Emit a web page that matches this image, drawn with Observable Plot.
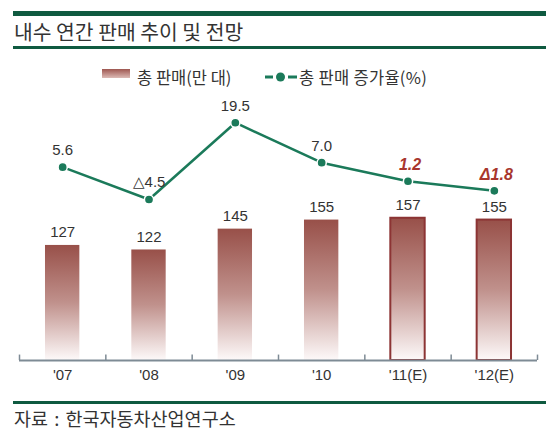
<!DOCTYPE html>
<html>
<head>
<meta charset="utf-8">
<script src="https://cdn.jsdelivr.net/npm/d3@7"></script>
<script src="https://cdn.jsdelivr.net/npm/@observablehq/plot@0.6"></script>
<style>
  body { margin: 0; background: #fff; }
  #chart { position: relative; width: 560px; height: 442px; overflow: hidden; background: #fff;
           font-family: "Noto Sans CJK KR", "Noto Sans", sans-serif; color: #333; }
  .rule { position: absolute; left: 13px; width: 533px; background: #0f5a40; }
  #title { position: absolute; left: 14px; top: 16px; font-size: 20.4px; line-height: 30px; }
  #source { position: absolute; left: 14px; top: 404px; font-size: 18.5px; line-height: 28px; word-spacing: 2px; }
  .leg { position: absolute; font-size: 16.5px; line-height: 22px; top: 66px; }
  #plot { position: absolute; left: 0; top: 90px; }
</style>
</head>
<body>
<div id="chart">
  <div class="rule" style="top:11px;height:5px"></div>
  <div id="title">내수 연간 판매 추이 및 전망</div>
  <div class="rule" style="top:46px;height:3px"></div>

  <div style="position:absolute;left:102px;top:69px;width:28px;height:9px;background:linear-gradient(#9e5650,#dcbab5)"></div>
  <div class="leg" style="left:137px">총 판매(만 대)</div>
  <svg style="position:absolute;left:264px;top:67px" width="34" height="20">
    <line x1="1" x2="9" y1="10" y2="10" stroke="#1b7a5a" stroke-width="3"/>
    <line x1="24" x2="33" y1="10" y2="10" stroke="#1b7a5a" stroke-width="3"/>
    <circle cx="16.5" cy="10" r="4.5" fill="#1b7a5a"/>
  </svg>
  <div class="leg" style="left:299px;letter-spacing:0.3px">총 판매 증가율(%)</div>

  <div id="plot"></div>

  <div class="rule" style="top:401px;height:3px"></div>
  <div id="source">자료 : 한국자동차산업연구소</div>
</div>
<script>
const years = ["'07", "'08", "'09", "'10", "'11(E)", "'12(E)"];
const sales = [127, 122, 145, 155, 157, 155];          // 만 대
const growth = [5.6, -4.5, 19.5, 7.0, 1.2, -1.8];      // %
const estimated = [false, false, false, false, true, true];

// the growth line shares the bar axis: map % onto it
const rateBase = 193.6, rateStep = 3.53;
const rateY = v => rateBase + rateStep * v;
const fmtRate = (v, est) => v < 0 ? (est ? "Δ" : "△") + Math.abs(v).toFixed(1) : v.toFixed(1);

const rows = years.map((year, i) => ({
  i, year, sales: sales[i], rate: growth[i], est: estimated[i],
  label: fmtRate(growth[i], estimated[i])
}));
const bounds = d3.range(years.length + 1).map(i => i - 0.5);

const numFont = "'Liberation Sans', Arial, sans-serif";
const green = "#1b7a5a";
const axisGray = "#7e8b95";

const plot = Plot.plot({
  width: 560,
  height: 300,
  marginLeft: 19,
  marginRight: 23,
  style: {background: "transparent", overflow: "visible", fontFamily: numFont},
  x: {domain: [-0.5, years.length - 0.5], axis: null},
  y: {domain: [0, 200], range: [270, 88.8], axis: null},
  marks: [
    Plot.rectY(rows.filter(d => !d.est), {x1: d => d.i - 0.199, x2: d => d.i + 0.199, y: "sales", fill: "url(#barGrad)"}),
    Plot.rectY(rows.filter(d => d.est), {x1: d => d.i - 0.199, x2: d => d.i + 0.199, y: "sales",
      fill: "url(#barGrad)", stroke: "#8c3434", strokeWidth: 2}),
    Plot.ruleY([0], {stroke: axisGray, strokeWidth: 1.8}),
    Plot.ruleX(bounds, {y1: 0, y2: 6, stroke: axisGray, strokeWidth: 1.5}),
    Plot.axisX({ticks: d3.range(years.length), tickFormat: i => years[i], tickSize: 0, tickPadding: 9,
      label: null, fontSize: 15, fill: "#333", fontFamily: numFont}),
    Plot.text(rows, {x: "i", y: "sales", text: d => String(d.sales), dy: -13, fontSize: 15, fill: "#333", fontFamily: numFont}),
    Plot.line(rows, {x: "i", y: d => rateY(d.rate), stroke: green, strokeWidth: 2.5}),
    Plot.dot(rows, {x: "i", y: d => rateY(d.rate), r: 4.6, fill: green, stroke: "#fff", strokeWidth: 1.5}),
    Plot.text(rows.filter(d => !d.est), {x: "i", y: d => rateY(d.rate), text: "label", dy: -17,
      fontSize: 15, fill: "#333", fontFamily: numFont}),
    Plot.text(rows.filter(d => d.est), {x: "i", y: d => rateY(d.rate), text: "label", dy: -16, dx: 2,
      fontSize: 16, fill: "#a8362d", fontStyle: "italic", fontWeight: "bold", fontFamily: numFont})
  ]
});

const defs = d3.select(plot).insert("defs", ":first-child");
const grad = defs.append("linearGradient").attr("id", "barGrad")
  .attr("x1", 0).attr("x2", 0).attr("y1", 0).attr("y2", 1);
[["0%", "#985049"], ["50%", "#c0918c"], ["100%", "#fdf9f9"]].forEach(([o, c]) =>
  grad.append("stop").attr("offset", o).attr("stop-color", c));

document.getElementById("plot").appendChild(plot);
</script>
</body>
</html>
